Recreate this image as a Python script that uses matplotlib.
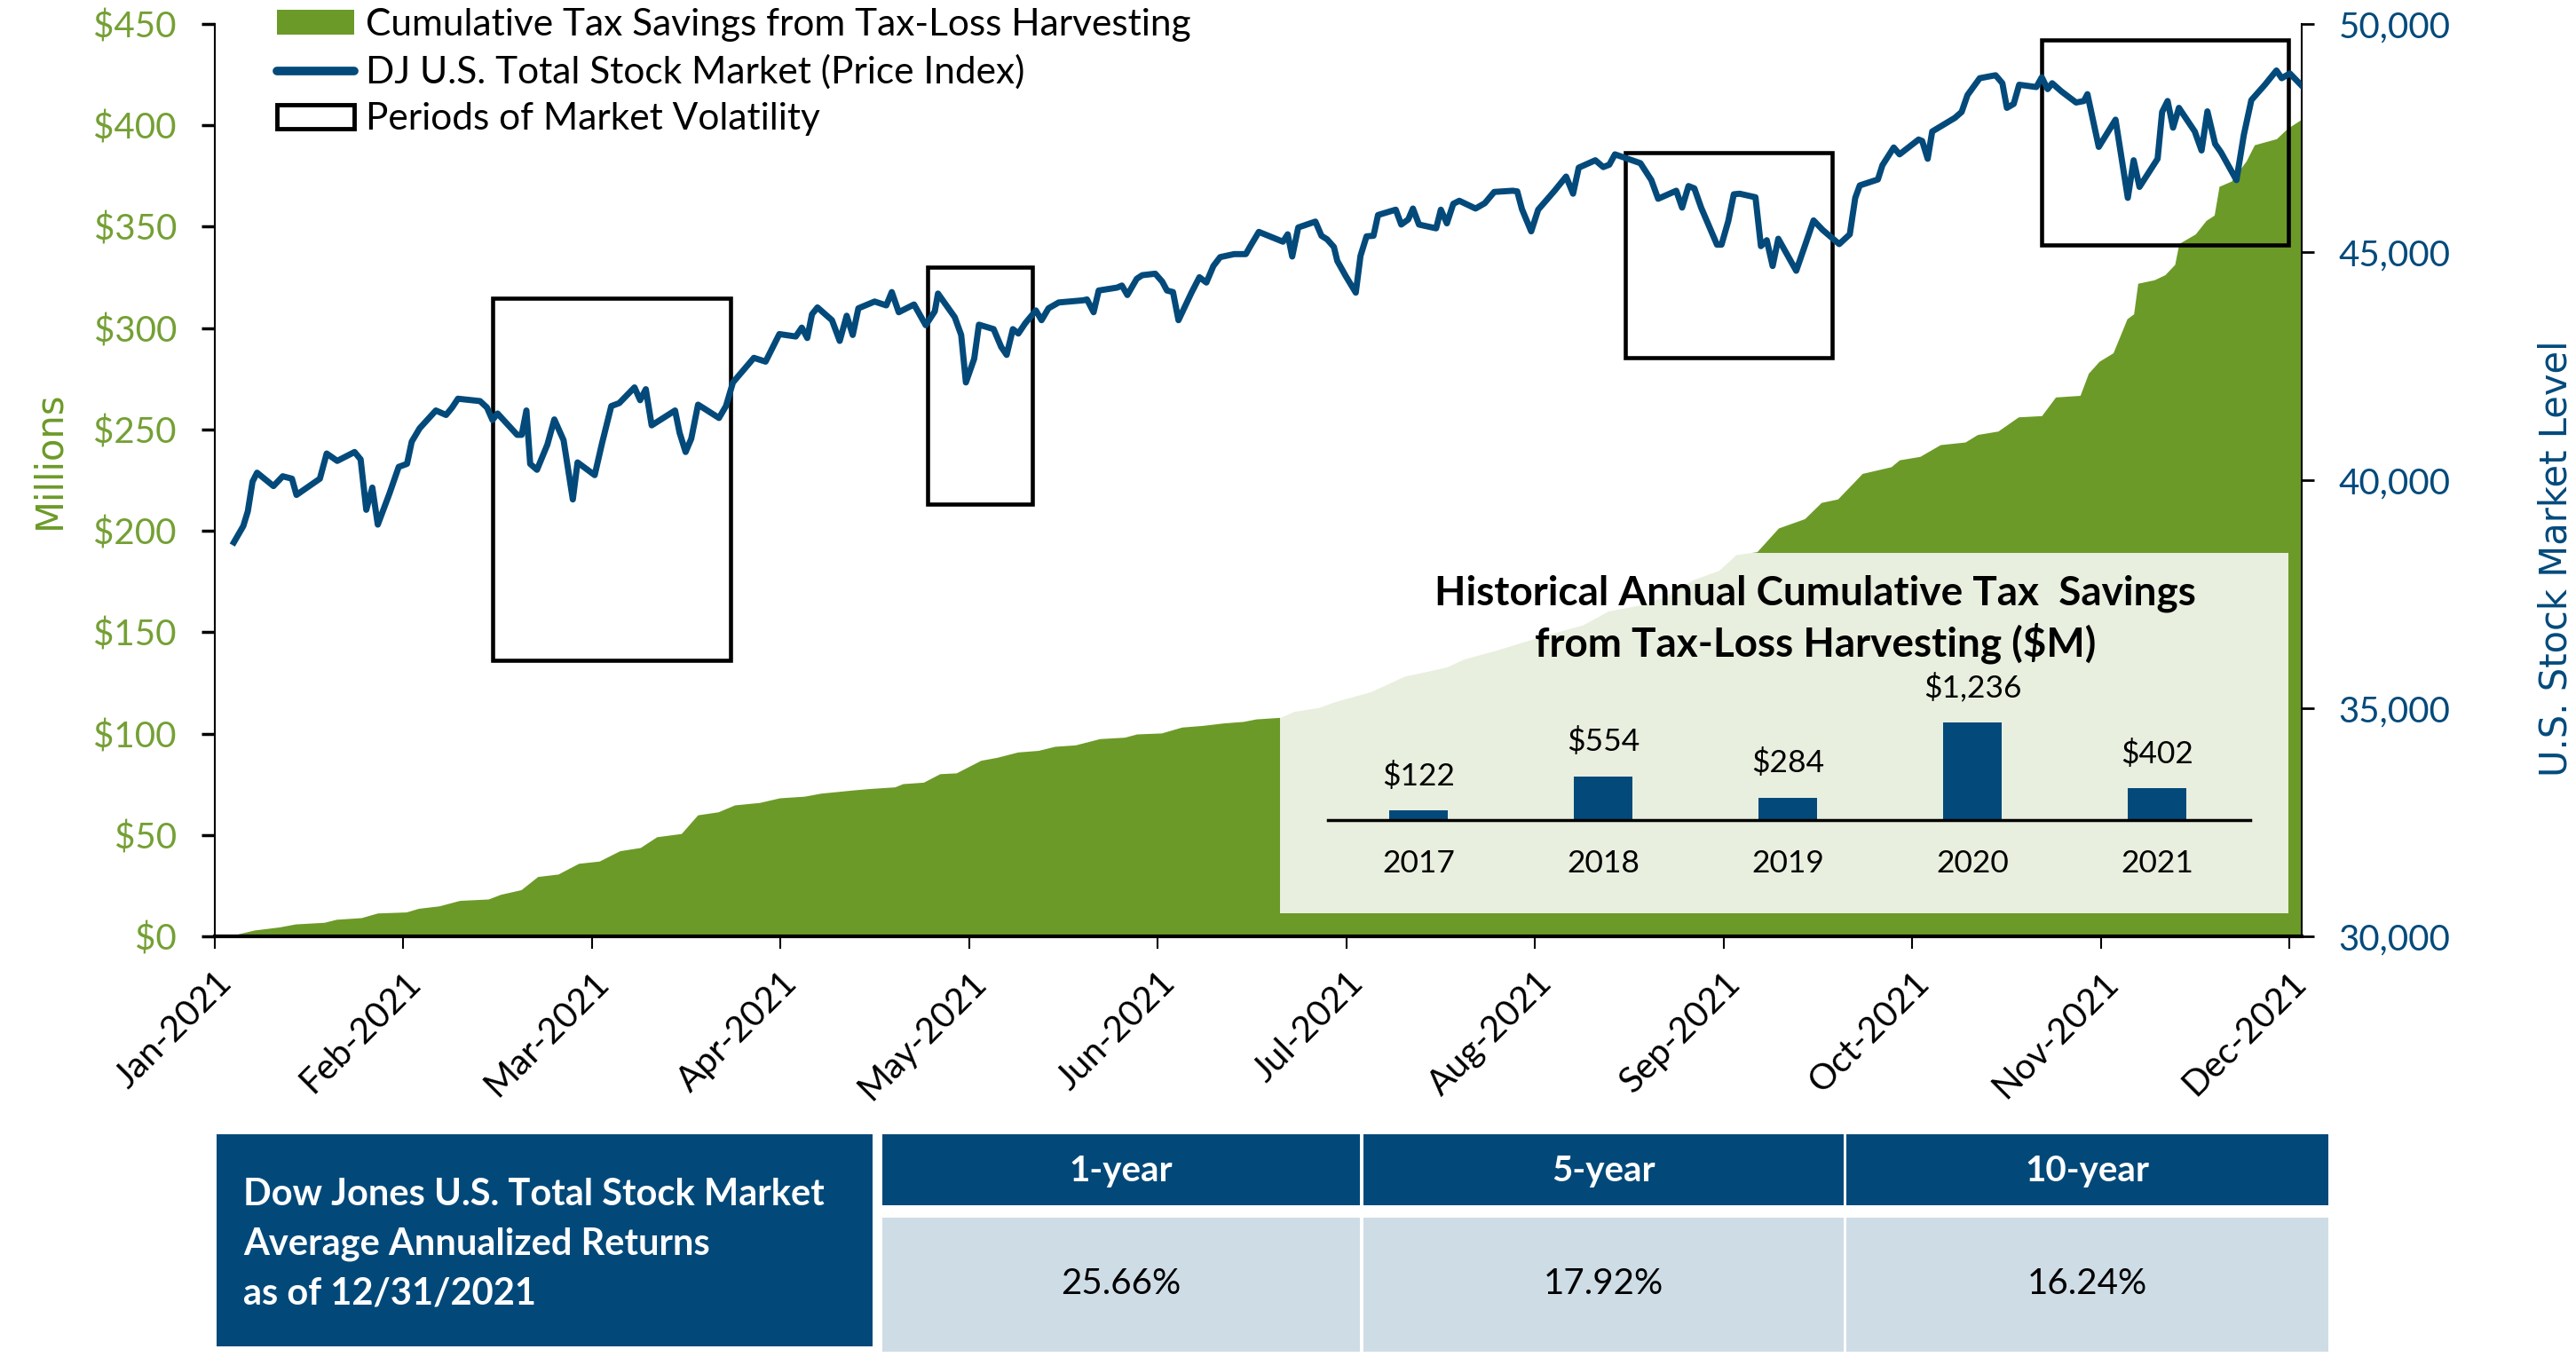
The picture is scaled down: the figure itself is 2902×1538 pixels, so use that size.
import matplotlib
matplotlib.use("Agg")
import matplotlib.pyplot as plt
import matplotlib.ticker as mticker
from matplotlib.lines import Line2D
from matplotlib.patches import Patch, Rectangle

plt.rcParams['font.family'] = ['Lato', 'DejaVu Sans']

# --- data -------------------------------------------------------------
months = ["Jan-2021", "Feb-2021", "Mar-2021", "Apr-2021", "May-2021", "Jun-2021",
          "Jul-2021", "Aug-2021", "Sep-2021", "Oct-2021", "Nov-2021", "Dec-2021"]

# DJ U.S. Total Stock Market (price index); x = months since 1 Jan 2021
spx_month = [0.101, 0.151, 0.175, 0.200, 0.224, 0.311, 0.360, 0.409, 0.433, 0.557,
             0.593, 0.649, 0.741, 0.773, 0.803, 0.835, 0.864, 0.926, 0.975, 1.019,
             1.044, 1.086, 1.172, 1.226, 1.258, 1.289, 1.406, 1.443, 1.472, 1.499,
             1.603, 1.627, 1.652, 1.672, 1.708, 1.763, 1.800, 1.849, 1.898, 1.923,
             2.014, 2.053, 2.102, 2.144, 2.225, 2.255, 2.285, 2.316, 2.440, 2.464,
             2.496, 2.526, 2.562, 2.673, 2.710, 2.747, 2.858, 2.920, 2.993, 3.080,
             3.112, 3.141, 3.166, 3.195, 3.272, 3.313, 3.350, 3.382, 3.412, 3.498,
             3.560, 3.589, 3.626, 3.707, 3.769, 3.817, 3.834, 3.873, 3.923, 3.957,
             3.982, 4.026, 4.051, 4.129, 4.169, 4.198, 4.231, 4.260, 4.297, 4.353,
             4.383, 4.420, 4.474, 4.604, 4.624, 4.659, 4.686, 4.784, 4.809, 4.838,
             4.888, 4.917, 4.986, 5.023, 5.048, 5.080, 5.109, 5.178, 5.220, 5.257,
             5.294, 5.330, 5.404, 5.466, 5.490, 5.535, 5.663, 5.688, 5.712, 5.744,
             5.835, 5.867, 5.897, 5.933, 5.951, 5.995, 6.049, 6.074, 6.106, 6.143,
             6.167, 6.261, 6.290, 6.327, 6.352, 6.384, 6.475, 6.500, 6.532, 6.566,
             6.598, 6.684, 6.733, 6.783, 6.881, 6.905, 6.930, 6.979, 7.016, 7.103,
             7.164, 7.201, 7.231, 7.319, 7.361, 7.393, 7.423, 7.558, 7.616, 7.652,
             7.748, 7.779, 7.813, 7.844, 7.880, 7.964, 7.988, 8.024, 8.053, 8.084,
             8.168, 8.197, 8.228, 8.259, 8.289, 8.384, 8.432, 8.476, 8.524, 8.612,
             8.668, 8.697, 8.721, 8.817, 8.841, 8.901, 8.932, 9.033, 9.052, 9.081,
             9.105, 9.225, 9.261, 9.292, 9.357, 9.441, 9.477, 9.501, 9.537, 9.566,
             9.657, 9.686, 9.717, 9.741, 9.789, 9.868, 9.909, 9.928, 9.988, 10.077,
             10.142, 10.173, 10.204, 10.300, 10.324, 10.353, 10.382, 10.413, 10.497, 10.533,
             10.564, 10.605, 10.636, 10.718, 10.757, 10.797, 10.869, 10.930, 10.958, 11.001,
             11.062]
spx_level = [38636, 38994, 39318, 39968, 40163, 39870, 40085, 40032, 39676, 40032,
             40584, 40422, 40617, 40455, 39350, 39837, 39025, 39707, 40291, 40357,
             40844, 41137, 41527, 41429, 41591, 41785, 41733, 41591, 41318, 41461,
             40993, 40993, 41527, 40357, 40227, 40778, 41331, 40876, 39577, 40389,
             40110, 40811, 41624, 41688, 42033, 41753, 41994, 41201, 41527, 41040,
             40617, 40909, 41655, 41363, 41624, 42142, 42681, 42598, 43202, 43149,
             43344, 43116, 43636, 43786, 43506, 43052, 43604, 43182, 43767, 43915,
             43831, 44123, 43681, 43851, 43396, 43700, 44090, 43864, 43571, 43182,
             42142, 42662, 43408, 43311, 42921, 42746, 43311, 43214, 43441, 43720,
             43506, 43767, 43895, 43942, 43961, 43681, 44157, 44221, 44266, 44058,
             44415, 44493, 44526, 44351, 44157, 44123, 43506, 44110, 44448, 44332,
             44694, 44889, 44955, 44955, 45130, 45442, 45227, 45389, 44902, 45539,
             45668, 45357, 45279, 45111, 44805, 44480, 44110, 44916, 45344, 45357,
             45812, 45929, 45603, 45714, 45954, 45603, 45520, 45929, 45629, 46058,
             46124, 45954, 46071, 46318, 46344, 46330, 45941, 45454, 45929, 46344,
             46655, 46279, 46850, 47012, 46863, 46915, 47142, 46948, 46577, 46168,
             46344, 45974, 46447, 46396, 45974, 45162, 45162, 45681, 46266, 46279,
             46201, 45130, 45259, 44694, 45292, 44590, 45162, 45694, 45486, 45175,
             45389, 46188, 46461, 46591, 46903, 47292, 47142, 47467, 47434, 47045,
             47643, 47941, 48071, 48441, 48811, 48876, 48701, 48161, 48247, 48668,
             48617, 48831, 48572, 48701, 48525, 48278, 48311, 48461, 47305, 47902,
             46188, 47012, 46428, 47045, 48071, 48311, 47727, 48161, 47643, 47227,
             48084, 47370, 47187, 46577, 47565, 48331, 48668, 48980, 48811, 48915,
             48656]

# cumulative tax savings from tax-loss harvesting, $M
tlh_month = [0.101, 0.210, 0.341, 0.428, 0.580, 0.645, 0.776, 0.863, 1.015, 1.080,
             1.189, 1.298, 1.450, 1.515, 1.624, 1.712, 1.820, 1.929, 2.038, 2.147,
             2.256, 2.343, 2.473, 2.560, 2.669, 2.756, 2.887, 2.995, 3.126, 3.213,
             3.387, 3.474, 3.605, 3.648, 3.757, 3.844, 3.931, 4.061, 4.148, 4.257,
             4.366, 4.453, 4.562, 4.692, 4.823, 4.888, 5.019, 5.127, 5.236, 5.345,
             5.454, 5.519, 5.650, 5.720, 5.854, 5.944, 6.126, 6.216, 6.306, 6.419,
             6.532, 6.621, 6.800, 6.936, 7.073, 7.252, 7.388, 7.567, 7.704, 7.838,
             7.974, 8.064, 8.176, 8.290, 8.429, 8.517, 8.604, 8.691, 8.734, 8.887,
             8.931, 9.040, 9.148, 9.280, 9.345, 9.454, 9.562, 9.685, 9.759, 9.889,
             9.933, 9.990, 10.064, 10.138, 10.173, 10.195, 10.282, 10.339, 10.391, 10.413,
             10.500, 10.557, 10.600, 10.626, 10.691, 10.770, 10.813, 10.930, 10.987, 11.064]
tlh_savings = [0.7, 3.1, 4.6, 6.1, 6.9, 8.4, 9.2, 11.5, 12.0, 13.8,
               15.0, 17.7, 18.4, 20.7, 23.0, 29.5, 30.7, 36.0, 37.1, 42.2,
               43.8, 49.1, 50.7, 59.9, 61.4, 64.8, 66.0, 68.3, 69.1, 70.6,
               72.2, 72.9, 73.7, 75.3, 76.0, 80.2, 80.6, 86.8, 88.3, 90.9,
               91.7, 93.7, 94.4, 97.5, 98.2, 99.8, 100.3, 103.2, 104.0, 105.2,
               106.0, 107.2, 108.0, 110.9, 112.9, 115.9, 120.6, 124.4, 128.3, 130.5,
               132.9, 136.7, 141.3, 145.2, 149.0, 153.6, 160.5, 163.6, 168.2, 175.9,
               180.5, 188.2, 189.7, 201.4, 206.0, 214.0, 215.7, 224.1, 228.3, 231.6,
               235.0, 236.7, 242.5, 243.8, 247.5, 249.2, 256.2, 256.8, 266.0, 266.8,
               277.7, 283.6, 287.8, 304.6, 307.0, 322.1, 323.8, 326.3, 331.4, 341.7,
               346.4, 353.1, 355.7, 369.9, 372.5, 382.5, 390.4, 393.4, 398.4, 403.1]

# periods of market volatility (months, index level)
vol_start = [1.473, 3.779, 7.478, 9.685]
vol_end = [2.734, 4.334, 8.574, 10.992]
vol_low = [36058, 39481, 42676, 45146]
vol_high = [43981, 44668, 47175, 49649]

hist_years = ["2017", "2018", "2019", "2020", "2021"]
hist_savings = [122, 554, 284, 1236, 402]

ret_periods = ["1-year", "5-year", "10-year"]
ret_values = ["25.66%", "17.92%", "16.24%"]
ret_title = ["Dow Jones U.S. Total Stock Market", "Average Annualized Returns", "as of 12/31/2021"]

GREEN = "#6c9a28"
GREEN_TXT = "#74a034"
BLUE = "#034a7b"
NAVY = "#02497a"
LIGHT = "#cedce5"

W, H = 2902, 1538
fig = plt.figure(figsize=(W / 100, H / 100), dpi=100)


def px(x0, y0, x1, y1):
    # pixel box (origin top-left) -> figure fraction rect
    return [x0 / W, 1 - y1 / H, (x1 - x0) / W, (y1 - y0) / H]


# --- main chart ---------------------------------------------------------
ax = fig.add_axes(px(242, 27, 2593, 1055))
ax.fill_between(tlh_month, tlh_savings, color=GREEN, lw=0, zorder=1)
ax.set_xlim(0, 11.064)
ax.set_ylim(0, 450)
ax.set_yticks(range(0, 451, 50))
ax.yaxis.set_major_formatter(mticker.StrMethodFormatter("${x:,.0f}"))
ax.set_xticks(range(len(months)))
ax.set_xticklabels(months, rotation=45, ha="right", rotation_mode="anchor")
ax.tick_params(axis="y", colors="black", labelcolor=GREEN_TXT, labelsize=29,
               length=11, width=2.5, pad=20, direction="out")
ax.tick_params(axis="x", labelsize=29, length=10, width=1.5, pad=14, direction="out")
ax.spines["top"].set_visible(False)
ax.spines["right"].set_visible(False)
ax.spines["left"].set_linewidth(1.5)
ax.spines["bottom"].set_linewidth(3)

ax2 = ax.twinx()
ax2.set_ylim(30000, 50000)
ax2.set_yticks(range(30000, 50001, 5000))
ax2.yaxis.set_major_formatter(mticker.StrMethodFormatter("{x:,.0f}"))
ax2.tick_params(axis="y", colors="black", labelcolor=BLUE, labelsize=29,
                length=10, width=2, pad=20)
for s in ("top", "left", "bottom"):
    ax2.spines[s].set_visible(False)
ax2.spines["right"].set_linewidth(1.5)

for s, e, lo, hi in zip(vol_start, vol_end, vol_low, vol_high):
    ax2.add_patch(Rectangle((s, lo), e - s, hi - lo, fill=False, ec="black",
                            lw=3.3, zorder=2, joinstyle="miter"))
ax2.plot(spx_month, spx_level, color=BLUE, lw=5, zorder=3, solid_joinstyle="round")

handles = [Patch(fc=GREEN, ec="none"),
           Line2D([], [], color=BLUE, lw=7, solid_capstyle="round"),
           Patch(fc="none", ec="black", lw=3.5)]
labels = ["Cumulative Tax Savings from Tax-Loss Harvesting",
          "DJ U.S. Total Stock Market (Price Index)",
          "Periods of Market Volatility"]
ax2.legend(handles, labels, loc="upper left", bbox_to_anchor=(312 / W, 1 - 9 / H),
           bbox_transform=fig.transFigure, frameon=False, fontsize=30.5,
           borderpad=0, borderaxespad=0, handlelength=2.05, handletextpad=0.3,
           handleheight=0.62, labelspacing=0.34)

fig.text(55 / W, 1 - 518 / H, "Millions", rotation=90, ha="center", va="center",
         fontsize=30, color=GREEN, family="DejaVu Sans")
fig.text(2879 / W, 1 - 629 / H, "U.S. Stock Market Level", rotation=90, ha="center",
         va="center", fontsize=30, color=BLUE, family="DejaVu Sans")

# --- inset: historical annual savings ---------------------------------
bg = fig.add_axes(px(1442, 623, 2578, 1029))
bg.set_facecolor((1, 1, 1, 0.85))
bg.set_xticks([])
bg.set_yticks([])
for s in bg.spines.values():
    s.set_visible(False)

bx = fig.add_axes(px(1496, 759, 2535, 924))
bx.patch.set_alpha(0)
bx.bar(range(len(hist_years)), hist_savings, width=0.32, color=BLUE)
bx.set_xlim(-0.49, 4.505)
bx.set_ylim(0, 1850)
bx.set_xticks(range(len(hist_years)))
bx.set_xticklabels(hist_years)
bx.set_yticks([])
bx.tick_params(axis="x", length=0, pad=24, labelsize=25.5)
for s in ("top", "left", "right"):
    bx.spines[s].set_visible(False)
bx.spines["bottom"].set_linewidth(2.5)
for i, v in enumerate(hist_savings):
    bx.annotate(f"${v:,}", (i, v), xytext=(0, 16), textcoords="offset points",
                ha="center", va="bottom", fontsize=25.5)

fig.text(2045 / W, 1 - 669 / H, "Historical Annual Cumulative Tax  Savings",
         ha="center", va="center", fontsize=33, fontweight="bold")
fig.text(2045 / W, 1 - 725 / H, "from Tax-Loss Harvesting ($M)",
         ha="center", va="center", fontsize=33, fontweight="bold")

# --- returns table ------------------------------------------------------
fig.add_artist(Rectangle((244 / W, 1 - 1517 / H), (983 - 244) / W, (1517 - 1278) / H,
                         transform=fig.transFigure, fc=NAVY, ec="none"))
for k, line in enumerate(ret_title):
    fig.text(274 / W, 1 - (1346 + 56 * k) / H, line, ha="left", va="center",
             fontsize=30, fontweight="bold", color="white")

col_x = [(994, 1532), (1536, 2077), (2080, 2623)]
for (x0, x1), per, val in zip(col_x, ret_periods, ret_values):
    fig.add_artist(Rectangle((x0 / W, 1 - 1358 / H), (x1 - x0) / W, (1358 - 1278) / H,
                             transform=fig.transFigure, fc=NAVY, ec="none"))
    fig.add_artist(Rectangle((x0 / W, 1 - 1523 / H), (x1 - x0) / W, (1523 - 1372) / H,
                             transform=fig.transFigure, fc=LIGHT, ec="none"))
    fig.text((x0 + x1) / 2 / W, 1 - 1320 / H, per, ha="center", va="center",
             fontsize=29, fontweight="bold", color="white")
    fig.text((x0 + x1) / 2 / W, 1 - 1446 / H, val, ha="center", va="center",
             fontsize=29, color="black")

fig.savefig("out.png", dpi=100)
